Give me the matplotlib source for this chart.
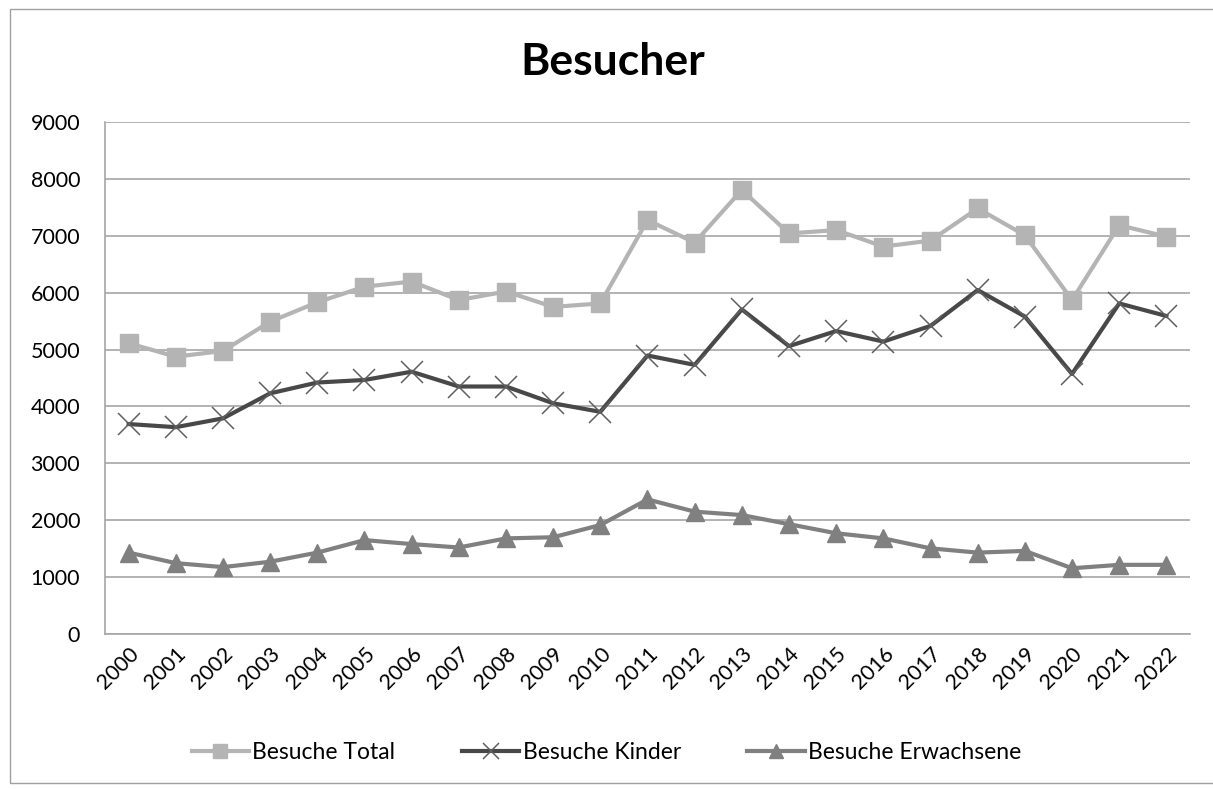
import numpy as np
import matplotlib
matplotlib.use("Agg")
import matplotlib.pyplot as plt
from matplotlib.patches import Rectangle

# ---------------- DATA ---------------- #

years = [str(y) for y in range(2000, 2023)]

besuche_total = [5110, 4875, 4975, 5490, 5830, 6105, 6195, 5870, 6020, 5750,
                 5810, 7275, 6880, 7805, 7040, 7100, 6810, 6915, 7480, 7010,
                 5870, 7185, 6985]

besuche_kinder = [3690, 3635, 3790, 4230, 4420, 4465, 4610, 4350, 4350, 4055,
                  3905, 4895, 4730, 5705, 5060, 5325, 5140, 5415, 6045, 5580,
                  4570, 5810, 5590]

besuche_erwachsene = [1430, 1245, 1175, 1270, 1430, 1650, 1580, 1520, 1680, 1700,
                      1915, 2365, 2150, 2090, 1930, 1770, 1680, 1505, 1430, 1460,
                      1155, 1215, 1215]

# ---------------- PLOT ---------------- #

plt.rcParams['font.family'] = ['Lato', 'DejaVu Sans']

fig = plt.figure(figsize=(12.13, 7.89), dpi=100)
ax = fig.add_axes([0.0866, 0.1965, 0.8944, 0.6489])

x = np.arange(len(years))

ax.plot(x, besuche_total, color='#b4b4b4', lw=3, marker='s', ms=13,
        label='Besuche Total', zorder=3)
ax.plot(x, besuche_kinder, color='#484848', lw=3, marker='x', ms=16,
        mew=1.1, mec='#606060', label='Besuche Kinder', zorder=3)
ax.plot(x, besuche_erwachsene, color='#808080', lw=3, marker='^', ms=13,
        label='Besuche Erwachsene', zorder=3)

ax.set_xlim(-0.5, len(years) - 0.5)
ax.set_ylim(0, 9000)
ax.set_yticks(range(0, 9001, 1000))
ax.set_xticks(x)
ax.set_xticklabels(years, rotation=45, ha='right', rotation_mode='anchor')
ax.tick_params(axis='both', length=0, labelsize=15.5)
ax.tick_params(axis='y', pad=18)
ax.tick_params(axis='x', pad=7)

ax.grid(axis='y', color='#a6a6a6', lw=1.2)
ax.set_axisbelow(True)
for s in ['top', 'right']:
    ax.spines[s].set_visible(False)
ax.spines['left'].set_color('#a6a6a6')
ax.spines['bottom'].set_color('#a6a6a6')
ax.spines['left'].set_linewidth(1.2)
ax.spines['bottom'].set_linewidth(1.2)

fig.text(0.505, 0.922, 'Besucher', ha='center', va='center',
         fontsize=32, fontweight='bold')

fig.legend(loc='center', bbox_to_anchor=(0.5, 0.046), ncol=3, frameon=False,
           fontsize=16.5, handlelength=2.5, columnspacing=2.9, handletextpad=0.15,
           markerscale=0.75)

# chart border
fig.patches.append(Rectangle((0.008, 0.008), 0.995, 0.98, transform=fig.transFigure,
                             fill=False, edgecolor='#a0a0a0', lw=1))

fig.savefig('out.png', dpi=100)
